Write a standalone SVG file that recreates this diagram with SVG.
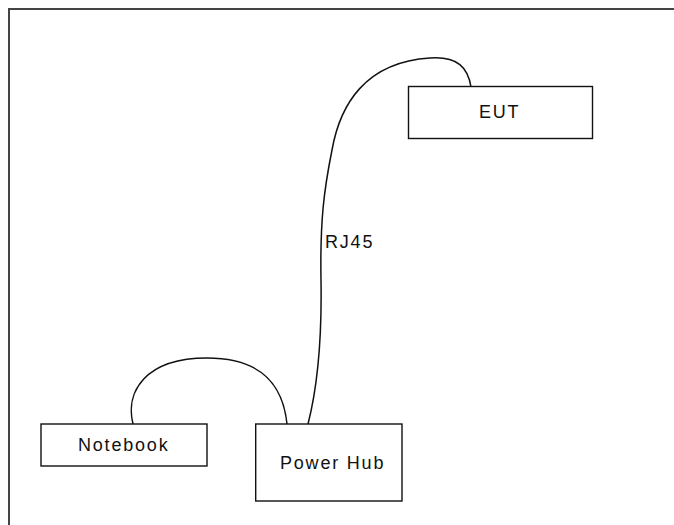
<svg xmlns="http://www.w3.org/2000/svg" width="674" height="525" viewBox="0 0 674 525">
  <style>
    .frame { fill: none; stroke: #444; stroke-width: 2; }
    .box { fill: #fff; stroke: #111; stroke-width: 1.4; }
    .cable { fill: none; stroke: #111; stroke-width: 1.5; }
    .label { font-family: "Liberation Sans", Arial, sans-serif; font-size: 18px; letter-spacing: 1.8px; fill: #111; }
  </style>
  <rect width="674" height="525" fill="#fff"/>
  <!-- page border (top and left edges) -->
  <path class="frame" d="M9,525 V9 H674"/>

  <g id="connectors">
    <path id="cable-notebook-hub" class="cable" d="M133,424 C125,392 145,358 207,358 C262,358 283,385 287,424"/>
    <path id="cable-hub-eut" class="cable" d="M308,424 C318,385 322,340 321,280 C320,220 324,190 332,150 C340,105 365,62 430,58 C458,56 468,68 471,87"/>
    <text class="label" x="325" y="248">RJ45</text>
  </g>

  <g id="eut">
    <rect class="box" x="408.5" y="86.5" width="184" height="52"/>
    <text class="label" x="479" y="118">EUT</text>
  </g>

  <g id="notebook">
    <rect class="box" x="41" y="424" width="166" height="42"/>
    <text class="label" x="78" y="451">Notebook</text>
  </g>

  <g id="power-hub">
    <rect class="box" x="255.7" y="424" width="146.3" height="77"/>
    <text class="label" x="280" y="468.5">Power Hub</text>
  </g>
</svg>
